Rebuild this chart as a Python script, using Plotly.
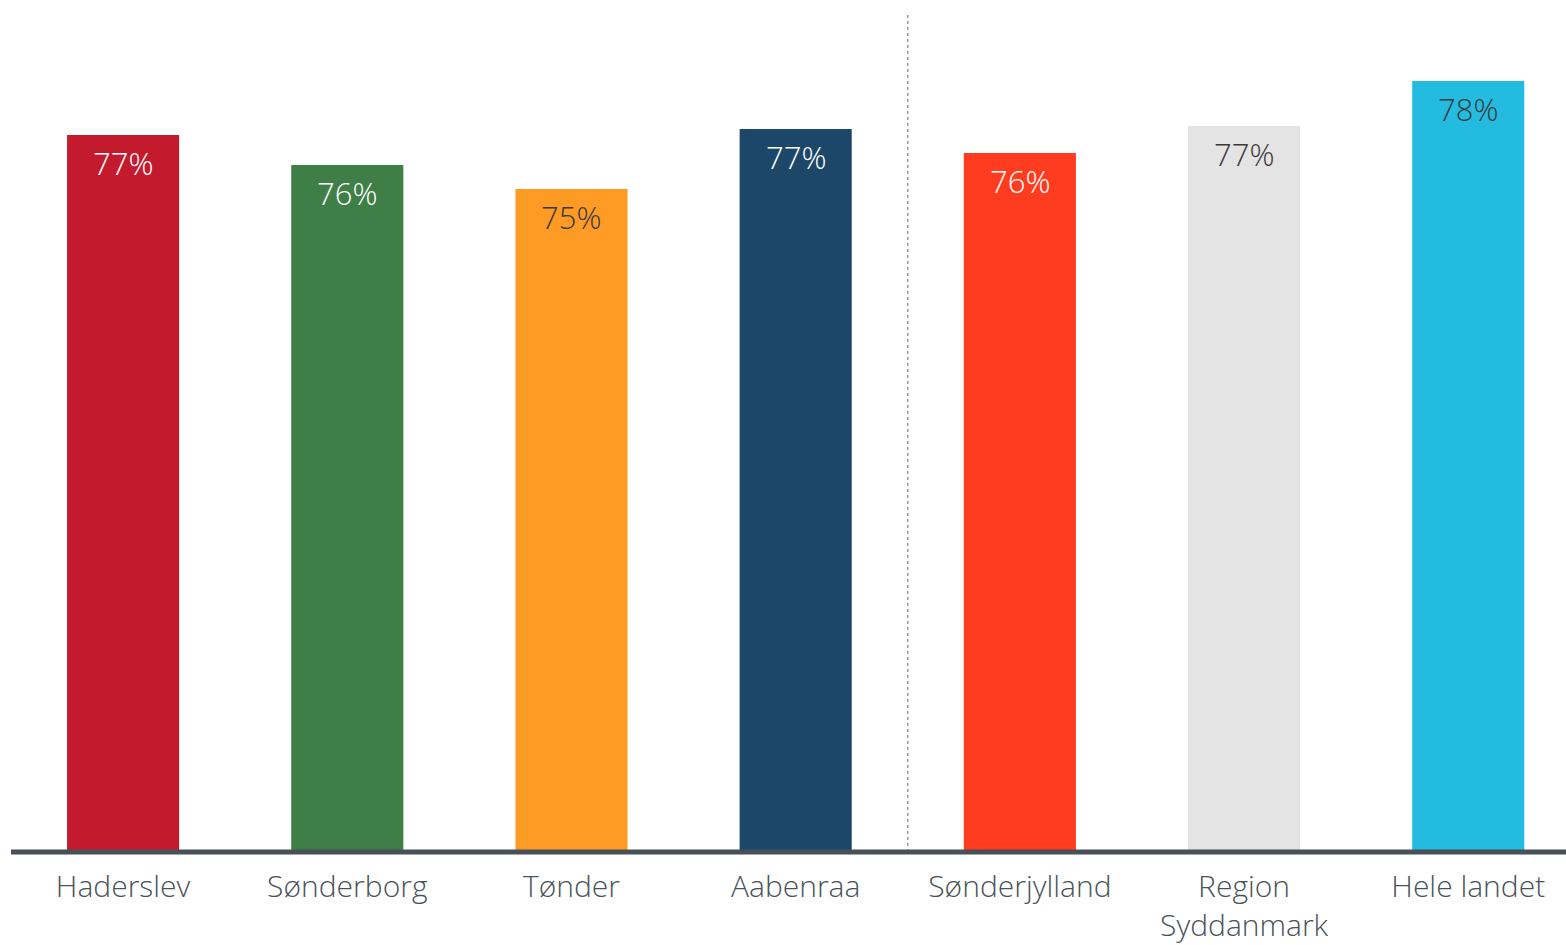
import plotly.graph_objects as go

categories = ["Haderslev", "Sønderborg", "Tønder", "Aabenraa", "Sønderjylland", "Region<br>Syddanmark", "Hele landet"]
values = [76.6, 75.6, 74.8, 76.8, 76.0, 76.9, 78.4]
bar_colors = ["#C41A2E", "#3F7F47", "#FD9B25", "#1C4769", "#FF3B20", "#E4E4E4", "#24BBE0"]
label_colors = ["#FFFFFF", "#FFFFFF", "#3A3A3A", "#FFFFFF", "#FFFFFF", "#3A3A3A", "#3A3A3A"]
y_base, y_max = 52.7, 80.7
y_low = 52.6  # a little room below the baseline so the thick line is not clipped

FONT = "Open Sans"

fig = go.Figure()
fig.add_trace(go.Bar(
    x=list(range(len(categories))),
    y=[v - y_base for v in values],
    base=y_base,
    marker=dict(color=bar_colors, line=dict(width=0)),
    width=0.5,
    hoverinfo="skip",
))

for i, v in enumerate(values):
    fig.add_annotation(
        x=i, y=v, yref="y", xref="x",
        text=f"{round(v)}%",
        showarrow=False, yanchor="top", yshift=-5,
        font=dict(family=FONT, size=31, color=label_colors[i], weight=300),
    )

# baseline
fig.add_shape(type="line", xref="paper", yref="y", x0=0, x1=1, y0=y_base, y1=y_base,
              line=dict(color="#474F57", width=5), layer="above")
# divider
fig.add_shape(type="line", xref="x", yref="y", x0=3.5, x1=3.5, y0=y_base, y1=y_max,
              line=dict(color="#8A8A8A", width=1.3, dash="3px,3px"), layer="below")

fig.update_layout(
    width=1566, height=945,
    margin=dict(l=11, r=0, t=12, b=90),
    plot_bgcolor="white", paper_bgcolor="white",
    showlegend=False,
    font=dict(family=FONT, size=30, color="#4A5259"),
    xaxis=dict(
        range=[-0.5, 6.436],
        tickmode="array",
        tickvals=list(range(len(categories))),
        ticktext=categories,
        showgrid=False, zeroline=False, showline=False,
        ticks="", ticklabelstandoff=11,
        tickfont=dict(family=FONT, size=30, color="#4A5259", weight=300),
    ),
    yaxis=dict(range=[y_low, y_max], visible=False, showgrid=False, zeroline=False),
)

fig.write_html(
    "out.html",
    config={"displayModeBar": False},
    post_script="document.body.style.margin='0px';document.body.style.overflow='hidden';",
)
